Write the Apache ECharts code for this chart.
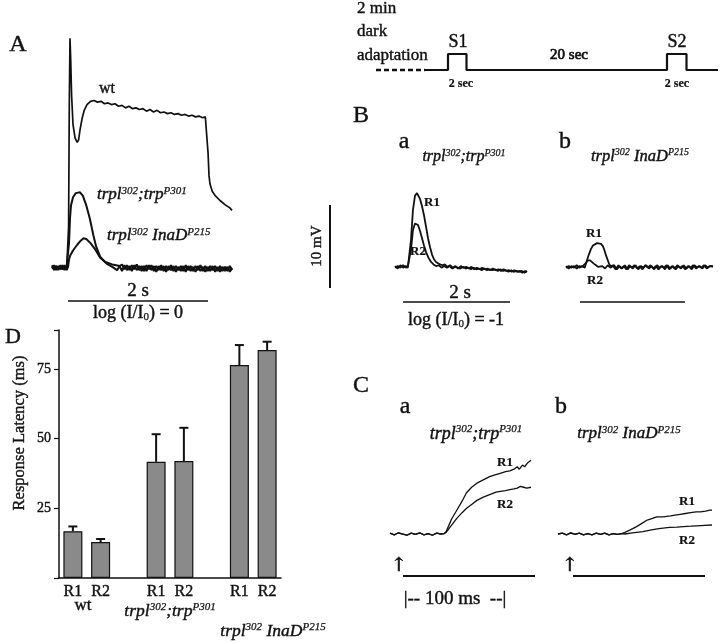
<!DOCTYPE html>
<html><head><meta charset="utf-8">
<script src="https://cdn.jsdelivr.net/npm/echarts@6/dist/echarts.min.js"></script>
<style>html,body{margin:0;padding:0;background:#fff}#c{width:720px;height:643px}</style>
</head><body><div id="c"></div>
<script>
// ---------- DATA (time, voltage) ----------
// Panel A: time in s, voltage in mV (10 mV bar), light on 0.23-2.23 s
const A_wt = [[0,0.1],[0.03,-0.2],[0.06,0.2],[0.09,-0.1],[0.12,0.2],[0.15,-0.2],[0.18,0.1],[0.21,-0.1],[0.229,0.1],
 [0.237,5],[0.247,20],[0.257,28.0],[0.267,25.5],[0.28,21],[0.30,17.5],[0.33,15.8],[0.36,15.3],[0.38,15.6],[0.40,16.8],[0.43,18.2],[0.46,19.2],[0.50,19.9],[0.55,20.3],[0.60,20.4],[0.65,20.2],[0.70,20.3],[0.75,20.0],[0.80,20.1],[0.85,19.9],[0.90,20.0],[0.95,19.7],[1.00,19.8],[1.05,19.5],[1.10,19.7],[1.15,19.4],[1.20,19.5],[1.25,19.3],[1.30,19.4],[1.35,19.1],[1.40,19.3],[1.45,19.0],[1.50,19.2],[1.55,18.9],[1.60,19.0],[1.65,18.8],[1.70,18.9],[1.75,18.7],[1.80,18.8],[1.85,18.6],[1.90,18.7],[1.95,18.5],[2.00,18.6],[2.05,18.4],[2.10,18.5],[2.15,18.3],[2.19,18.4],[2.214,18.3],
 [2.229,14.0],[2.243,11.2],[2.257,10.2],[2.29,9.3],[2.33,8.8],[2.40,8.2],[2.47,7.7],[2.54,7.3],[2.571,7.0]];
const A_trp = [[0,-0.1],[0.03,0.3],[0.06,-0.3],[0.09,0.2],[0.12,-0.2],[0.15,0.3],[0.18,-0.3],[0.21,0.2],[0.229,0],
 [0.243,3.0],[0.257,6.0],[0.271,7.6],[0.30,8.6],[0.34,9.1],[0.40,9.2],[0.44,8.8],[0.49,7.6],[0.54,6.0],[0.59,4.0],[0.63,2.6],[0.69,1.3],[0.76,0.7],[0.86,0.4],[0.97,0.2],
 [1.00,0.4],[1.035,-0.2],[1.07,0.3],[1.105,-0.3],[1.14,0.3],[1.175,-0.2],[1.21,0.4],[1.245,-0.3],[1.28,0.2],[1.315,-0.4],[1.35,0.3],[1.385,-0.2],[1.42,0.3],[1.455,-0.4],[1.49,0.2],[1.525,-0.3],[1.56,0.3],[1.595,-0.4],[1.63,0.2],[1.665,-0.3],[1.70,0.3],[1.735,-0.4],[1.77,0.2],[1.805,-0.3],[1.84,0.2],[1.875,-0.4],[1.91,0.3],[1.945,-0.3],[1.98,0.2],[2.015,-0.4],[2.05,0.2],[2.085,-0.3],[2.12,0.3],[2.155,-0.4],[2.19,0.2],[2.225,-0.4],[2.26,0.2],[2.295,-0.3],[2.33,0.2],[2.365,-0.4],[2.40,0.2],[2.435,-0.4],[2.47,0.1],[2.505,-0.4],[2.54,0.2],[2.571,-0.3]];
const A_inaD = [[0,0.3],[0.03,-0.3],[0.06,0.2],[0.09,-0.3],[0.12,0.3],[0.15,-0.2],[0.18,0.3],[0.21,-0.3],[0.229,0.1],
 [0.243,1.0],[0.26,1.5],[0.30,2.1],[0.36,2.8],[0.41,3.3],[0.45,3.6],[0.49,3.5],[0.55,3.0],[0.62,2.2],[0.69,1.2],[0.78,0.5],[0.86,0.1],[0.93,-0.3],
 [0.965,0.2],[1.00,-0.4],[1.035,0.3],[1.07,-0.3],[1.105,0.2],[1.14,-0.4],[1.175,0.3],[1.21,-0.3],[1.245,0.2],[1.28,-0.4],[1.315,0.2],[1.35,-0.4],[1.385,0.3],[1.42,-0.3],[1.455,0.2],[1.49,-0.5],[1.525,0.2],[1.56,-0.3],[1.595,0.2],[1.63,-0.5],[1.665,0.2],[1.70,-0.3],[1.735,0.2],[1.77,-0.5],[1.805,0.1],[1.84,-0.4],[1.875,0.2],[1.91,-0.5],[1.945,0.2],[1.98,-0.4],[2.015,0.1],[2.05,-0.5],[2.085,0.2],[2.12,-0.4],[2.155,0.1],[2.19,-0.5],[2.225,0.1],[2.26,-0.4],[2.295,0.2],[2.33,-0.5],[2.365,0.1],[2.40,-0.5],[2.435,0.1],[2.47,-0.4],[2.505,0.1],[2.54,-0.5],[2.571,0.0]];

// Protocol: light (0 = dark, 1 = on), time in s
const protoDark = [[0,0],[4.9,0]];
const protoLight = [[4.9,0],[7.2,0],[7.2,1],[9.05,1],[9.05,0],[29.1,0],[29.1,1],[31.05,1],[31.05,0],[34.2,0]];

// Panel B a (trpl;trp), time s, mV
const Ba_R1 = [[0,0.1],[0.05,-0.2],[0.1,0.2],[0.15,-0.1],[0.2,0.1],[0.24,-0.1],[0.262,0.1],[0.299,3.3],[0.336,7.0],[0.374,8.7],[0.411,9.0],[0.44,8.8],[0.467,8.3],[0.505,7.4],[0.542,6.3],[0.58,4.9],[0.617,3.5],[0.655,2.4],[0.692,1.5],[0.73,0.9],[0.766,0.6],[0.80,0.4],[0.841,0.3],[0.89,0.2],[0.93,0.3],[0.98,0.0],[1.03,0.2],[1.08,-0.1],[1.13,0.1],[1.18,-0.2],[1.23,0.1],[1.28,-0.1],[1.33,0.0],[1.38,-0.2],[1.43,0.0],[1.48,-0.3],[1.53,-0.1],[1.58,-0.3],[1.63,-0.1],[1.68,-0.3],[1.73,-0.2],[1.78,-0.4],[1.83,-0.2],[1.88,-0.4],[1.93,-0.3],[1.98,-0.5],[2.03,-0.3],[2.08,-0.5],[2.13,-0.4],[2.18,-0.6],[2.23,-0.4],[2.28,-0.6],[2.33,-0.5],[2.38,-0.7],[2.43,-0.5],[2.467,-0.6]];
const Ba_R2 = [[0,-0.1],[0.05,0.1],[0.1,-0.1],[0.15,0.2],[0.2,-0.1],[0.24,0.1],[0.262,0],[0.299,2.1],[0.336,4.5],[0.374,5.3],[0.40,5.4],[0.43,5.1],[0.467,4.4],[0.505,3.5],[0.542,2.6],[0.58,1.8],[0.627,1.1],[0.674,0.6],[0.72,0.3],[0.767,0.1],[0.82,0.2],[0.87,-0.1],[0.92,0.1],[0.97,-0.1],[1.02,0.1],[1.07,-0.2],[1.12,0.0],[1.17,-0.1],[1.22,-0.2],[1.27,0.0],[1.32,-0.2],[1.37,-0.1],[1.42,-0.3],[1.47,-0.1],[1.52,-0.3],[1.57,-0.2],[1.62,-0.4],[1.67,-0.2],[1.72,-0.4],[1.77,-0.3],[1.82,-0.4],[1.87,-0.3],[1.92,-0.5],[1.97,-0.3],[2.02,-0.5],[2.07,-0.4],[2.12,-0.6],[2.17,-0.4],[2.22,-0.6],[2.27,-0.5],[2.32,-0.6],[2.37,-0.5],[2.42,-0.7],[2.467,-0.5]];
// Panel B b (trpl InaD)
const Bb_R1 = [[0,0.1],[0.05,-0.2],[0.1,0.1],[0.15,-0.1],[0.2,0.2],[0.25,-0.1],[0.3,0.1],[0.35,-0.1],[0.374,0],[0.411,1.2],[0.467,2.2],[0.505,2.6],[0.542,2.7],[0.58,2.9],[0.617,2.9],[0.655,2.8],[0.692,2.5],[0.72,2.0],[0.748,1.4],[0.776,0.9],[0.804,0.4],[0.832,0.1],[0.86,-0.1],[0.90,0.2],[0.95,-0.3],[1.0,0.1],[1.05,-0.2],[1.1,0.2],[1.15,-0.3],[1.2,0.1],[1.25,-0.2],[1.3,0.2],[1.35,-0.3],[1.4,0.1],[1.45,-0.1],[1.5,0.2],[1.55,-0.2],[1.6,0.1],[1.65,-0.3],[1.7,0.2],[1.75,-0.1],[1.8,0.1],[1.85,-0.3],[1.9,0.2],[1.95,-0.2],[2.0,0.1],[2.05,-0.3],[2.1,0.1],[2.15,-0.2],[2.2,0.2],[2.25,-0.2],[2.3,0.1],[2.35,-0.3],[2.4,0.2],[2.45,-0.1],[2.5,0.1],[2.55,-0.2],[2.6,0.2],[2.65,-0.1],[2.7,0.1],[2.748,0.0]];
const Bb_R2 = [[0,-0.1],[0.05,0.1],[0.1,-0.1],[0.15,0.1],[0.2,-0.2],[0.25,0.1],[0.3,0.0],[0.336,0.2],[0.374,0.5],[0.411,0.8],[0.45,0.8],[0.486,0.6],[0.52,0.4],[0.561,0.2],[0.60,0.0],[0.636,-0.1],[0.68,0.1],[0.73,-0.2],[0.78,0.2],[0.83,-0.1],[0.88,0.1],[0.93,-0.3],[0.98,0.2],[1.03,-0.2],[1.08,0.1],[1.13,-0.3],[1.18,0.2],[1.23,-0.1],[1.28,0.2],[1.33,-0.2],[1.38,0.1],[1.43,-0.3],[1.48,0.2],[1.53,-0.1],[1.58,0.2],[1.63,-0.2],[1.68,0.1],[1.73,-0.3],[1.78,0.1],[1.83,-0.1],[1.88,0.2],[1.93,-0.3],[1.98,0.1],[2.03,-0.2],[2.08,0.2],[2.13,-0.1],[2.18,0.1],[2.23,-0.3],[2.28,0.1],[2.33,-0.1],[2.38,0.2],[2.43,-0.2],[2.48,0.1],[2.53,-0.1],[2.58,0.2],[2.63,-0.2],[2.68,0.1],[2.748,0.1]];

// Panel C: time in ms, voltage in mV
const Ca_R1 = [[0,0.1],[4,-0.1],[8,0.15],[12,0],[16,-0.15],[20,0.1],[24,-0.05],[28,0.15],[32,-0.1],[36,0.05],[40,-0.15],[44,0.1],[48,0],[51,0.05],
 [53,0.3],[55,0.9],[58,1.8],[63,2.9],[68,4.0],[72,5.0],[77,5.7],[82,6.2],[88,6.6],[94,7.0],[99,7.2],[104,7.4],[109,7.6],[113,7.7],[117,7.9],[120,8.2],[122,7.9],[125,8.4],[127,8.2],[130,8.7],[133,9.0]];
const Ca_R2 = [[0,0.1],[4,-0.1],[8,0.15],[12,0],[16,-0.15],[20,0.1],[24,-0.05],[28,0.15],[32,-0.1],[36,0.05],[40,-0.15],[44,0.1],[48,0],[51,0.05],
 [53,0.2],[57,0.9],[63,1.9],[68,2.6],[72,3.1],[77,3.6],[82,4.1],[88,4.5],[94,4.8],[100,5.1],[104,5.2],[109,5.3],[113,5.4],[117,5.5],[120,5.6],[123,5.8],[126,5.7],[129,5.6],[133,5.7]];
const Cb_R1 = [[0,0],[4,0.1],[8,-0.1],[12,0.15],[16,-0.05],[20,0.1],[24,-0.1],[28,0.05],[32,-0.1],[36,0.1],[40,-0.05],[44,0.1],[48,-0.1],[52,0.05],[56,-0.05],[60,0.05],
 [63,0.2],[68,0.5],[74,0.9],[79,1.3],[84,1.7],[89,1.9],[93,2.1],[99,2.1],[106,2.2],[110,2.3],[115,2.4],[120,2.5],[125,2.6],[130,2.7],[134,2.7],[139,2.8],[143,2.9],[145,2.9]];
const Cb_R2 = [[0,0],[4,0.1],[8,-0.1],[12,0.15],[16,-0.05],[20,0.1],[24,-0.1],[28,0.05],[32,-0.1],[36,0.1],[40,-0.05],[44,0.1],[48,-0.1],[52,0.05],[56,-0.05],[60,0.05],
 [63,0.0],[70,0.15],[80,0.3],[88,0.5],[95,0.65],[105,0.8],[112,0.85],[118,0.9],[125,0.95],[131,1.0],[138,1.05],[145,1.1]];

// Panel D: response latency (ms)
const latencyCats = ['R1','R2','','R1','R2','','R1','R2'];
const latencyMean = [16.8, 12.9, null, 41.7, 42.0, null, 76.4, 81.8];
const latencyErr  = [1.7, 1.1, null, 9.9, 11.9, null, 7.2, 3.0];
const latencyTicks = [25, 50, 75];

// ---------- CHART ----------
const SERIF = '"Liberation Serif", "Times New Roman", serif';
const INK = '#111';
const INKW = 0.4;
function txt(x, y, text, o) {
  o = o || {};
  return {type:'text', x:x, y:y, rotation:o.rot||0, z:100, silent:true,
    style:{text:text, fill:INK, stroke:INK, lineWidth:o.sw==null?INKW:o.sw, fontFamily:o.font||SERIF, fontSize:o.size||15,
      fontStyle:o.italic?'italic':'normal', fontWeight:o.bold?'bold':'normal',
      align:o.align||'center', verticalAlign:'middle', rich:o.rich}};
}
function genoRich(size) {
  const s = Math.round(size*0.62);
  return {
    n:{fontFamily:SERIF, fontStyle:'italic', fontSize:size, lineHeight:size+2, fill:INK, color:INK, stroke:INK, lineWidth:INKW},
    s:{fontFamily:SERIF, fontStyle:'italic', fontSize:s, lineHeight:s+1, verticalAlign:'top', fill:INK, color:INK, stroke:INK, lineWidth:0.25}
  };
}
function logRich(size) {
  const s = Math.round(size*0.62);
  return {
    m:{fontFamily:SERIF, fontSize:size, lineHeight:size+2, fill:INK, color:INK, stroke:INK, lineWidth:INKW},
    b:{fontFamily:SERIF, fontSize:s, lineHeight:s+1, verticalAlign:'bottom', fill:INK, color:INK, stroke:INK, lineWidth:0.25}
  };
}
const TRP = '{n|trpl}{s|302}{n|;trp}{s|P301}';
const INAD = '{n|trpl}{s|302}{n| InaD}{s|P215}';
function geno(x, y, t, size, align) { return txt(x, y, t, {size:size, rich:genoRich(size), align:align||'center'}); }
function hline(x1, x2, y, w) { return {type:'line', z:100, silent:true, shape:{x1:x1,y1:y,x2:x2,y2:y}, style:{stroke:INK, lineWidth:w||2}}; }

const grids = [
  {left:52, top:30, width:180, height:250},   // 0 A
  {left:376, top:40, width:342, height:40},   // 1 protocol
  {left:395, top:180, width:132, height:100}, // 2 Ba
  {left:566, top:180, width:147, height:100}, // 3 Bb
  {left:390, top:440, width:141, height:105}, // 4 Ca
  {left:558, top:440, width:154, height:105}, // 5 Cb
  {left:59, top:330, width:222, height:248}   // 6 D
];
const hid = (gi, min, max) => ({type:'value', gridIndex:gi, min:min, max:max, show:false});
const xAxes = [hid(0,0,2.571), hid(1,0,34.2), hid(2,0,2.467), hid(3,0,2.748), hid(4,0,133), hid(5,0,145),
  {type:'category', gridIndex:6, data:latencyCats, boundaryGap:true,
   axisLine:{lineStyle:{color:INK, width:1.5}}, axisTick:{show:false},
   axisLabel:{color:INK, fontFamily:SERIF, fontSize:16, margin:6, interval:0, textBorderColor:INK, textBorderWidth:0.4}}];
const yAxes = [hid(0,-1.5,29), hid(1,-0.625,1.875), hid(2,-1.6,10.6), hid(3,-1.6,10.6), hid(4,-1.34,11.46), hid(5,-1.34,11.46),
  {type:'value', gridIndex:6, min:0, max:89, interval:25,
   axisLine:{show:true, lineStyle:{color:INK, width:1.5}},
   axisTick:{show:true, length:5, lineStyle:{color:INK, width:1.2}},
   splitLine:{show:false},
   axisLabel:{color:INK, fontFamily:SERIF, fontSize:14, margin:8, textBorderColor:INK, textBorderWidth:0.4,
     formatter: v => latencyTicks.indexOf(v) >= 0 ? String(v) : ''}}];

function trace(gi, data, w, extra) {
  return Object.assign({type:'line', xAxisIndex:gi, yAxisIndex:gi, data:data, showSymbol:false, symbol:'none',
    smooth:false, silent:true, lineStyle:{color:INK, width:w}, z:5}, extra||{});
}

const series = [
  trace(0, A_wt, 1.7), trace(0, A_trp, 2), trace(0, A_inaD, 2),
  trace(1, protoDark, 2.5, {lineStyle:{color:INK, width:2.5, type:[5,3]}}), trace(1, protoLight, 2.2),
  trace(2, Ba_R1, 1.8), trace(2, Ba_R2, 1.8),
  trace(3, Bb_R1, 1.8), trace(3, Bb_R2, 1.8),
  trace(4, Ca_R1, 1.3), trace(4, Ca_R2, 1.3),
  trace(5, Cb_R1, 1.3), trace(5, Cb_R2, 1.3),
  {type:'bar', xAxisIndex:6, yAxisIndex:6, data:latencyMean, barWidth:19, silent:true,
   itemStyle:{color:'#8a8a8a', borderColor:INK, borderWidth:1.2}},
  {type:'custom', xAxisIndex:6, yAxisIndex:6, silent:true, z:10,
   data: latencyMean.map((m, i) => m == null ? null : [i, m, m + latencyErr[i]]).filter(d => d),
   encode:{x:0, y:[1,2]},
   renderItem: function(params, api) {
     const i = api.value(0);
     const base = api.coord([i, api.value(1)]);
     const top = api.coord([i, api.value(2)]);
     return {type:'group', children:[
       {type:'line', shape:{x1:base[0], y1:base[1], x2:top[0], y2:top[1]}, style:{stroke:INK, lineWidth:2}},
       {type:'line', shape:{x1:top[0]-4.5, y1:top[1], x2:top[0]+4.5, y2:top[1]}, style:{stroke:INK, lineWidth:2}}
     ]};
   }}
];

const graphic = [
  // panel letters
  txt(18, 45, 'A', {size:24}), txt(361, 116, 'B', {size:24}), txt(361, 386, 'C', {size:24}), txt(13, 337, 'D', {size:22}),
  txt(404, 142, 'a', {size:24}), txt(565, 142, 'b', {size:24}),
  txt(405, 407, 'a', {size:24}), txt(561, 407, 'b', {size:24}),
  // panel A labels
  txt(107, 89, 'wt', {size:16}),
  geno(97, 195, TRP, 17, 'left'), geno(107, 236, INAD, 17, 'left'),
  hline(68, 208, 301, 1.5),
  txt(138, 291, '2 s', {size:19}),
  txt(138, 313, '{m|log (I/I}{b|0}{m|) = 0}', {size:18, rich:logRich(18)}),
  // protocol
  txt(357, 9, '2 min', {size:17, align:'left'}), txt(357, 32, 'dark', {size:17, align:'left'}), txt(357, 56, 'adaptation', {size:17, align:'left'}),
  txt(458, 42, 'S1', {size:18}), txt(677, 42, 'S2', {size:18}),
  txt(569, 55, '20 sec', {size:15, sw:0.7}),
  txt(461, 84, '2 sec', {size:12, bold:true, sw:0.2}), txt(677, 84, '2 sec', {size:12, bold:true, sw:0.2}),
  // panel B
  geno(464, 157, TRP, 16), geno(640, 157, INAD, 16.5),
  txt(317, 246, '10 mV', {size:15, rot:Math.PI/2}),
  {type:'line', z:100, silent:true, shape:{x1:330, y1:205, x2:330, y2:288}, style:{stroke:INK, lineWidth:2}},
  txt(432, 203, 'R1', {size:13, bold:true, sw:0.2}), txt(418, 252, 'R2', {size:13, bold:true, sw:0.2}),
  txt(594, 234, 'R1', {size:13, bold:true, sw:0.2}), txt(595, 281, 'R2', {size:13, bold:true, sw:0.2}),
  hline(403, 510, 302, 1.5), hline(580, 685, 302, 1.5),
  txt(460, 293, '2 s', {size:19}),
  txt(456, 320, '{m|log (I/I}{b|0}{m|) = -1}', {size:18, rich:logRich(18)}),
  // panel C
  geno(476, 434, TRP, 18), geno(629, 434, INAD, 17),
  txt(505, 463, 'R1', {size:13, bold:true, sw:0.2}), txt(505, 505, 'R2', {size:13, bold:true, sw:0.2}),
  txt(687, 502, 'R1', {size:13, bold:true, sw:0.2}), txt(687, 541, 'R2', {size:13, bold:true, sw:0.2}),
  txt(399, 566, '\u2191', {size:19, sw:0.6, font:'"DejaVu Serif", serif'}),
  txt(570, 566, '\u2191', {size:19, sw:0.6, font:'"DejaVu Serif", serif'}),
  hline(403, 535, 576, 2), hline(573, 705, 576, 2),
  txt(455, 599, '|-- 100 ms  --|', {size:19}),
  // panel D
  txt(20, 433, 'Response Latency (ms)', {size:16.5, rot:Math.PI/2}),
  txt(83, 606, 'wt', {size:17}),
  geno(170, 611, TRP, 17.5), geno(273, 631, INAD, 17.5)
];

const chart = echarts.init(document.getElementById('c'), null, {renderer:'canvas'});
chart.setOption({animation:false, backgroundColor:'#fff', grid:grids, xAxis:xAxes, yAxis:yAxes, series:series, graphic:graphic});
</script></body></html>
